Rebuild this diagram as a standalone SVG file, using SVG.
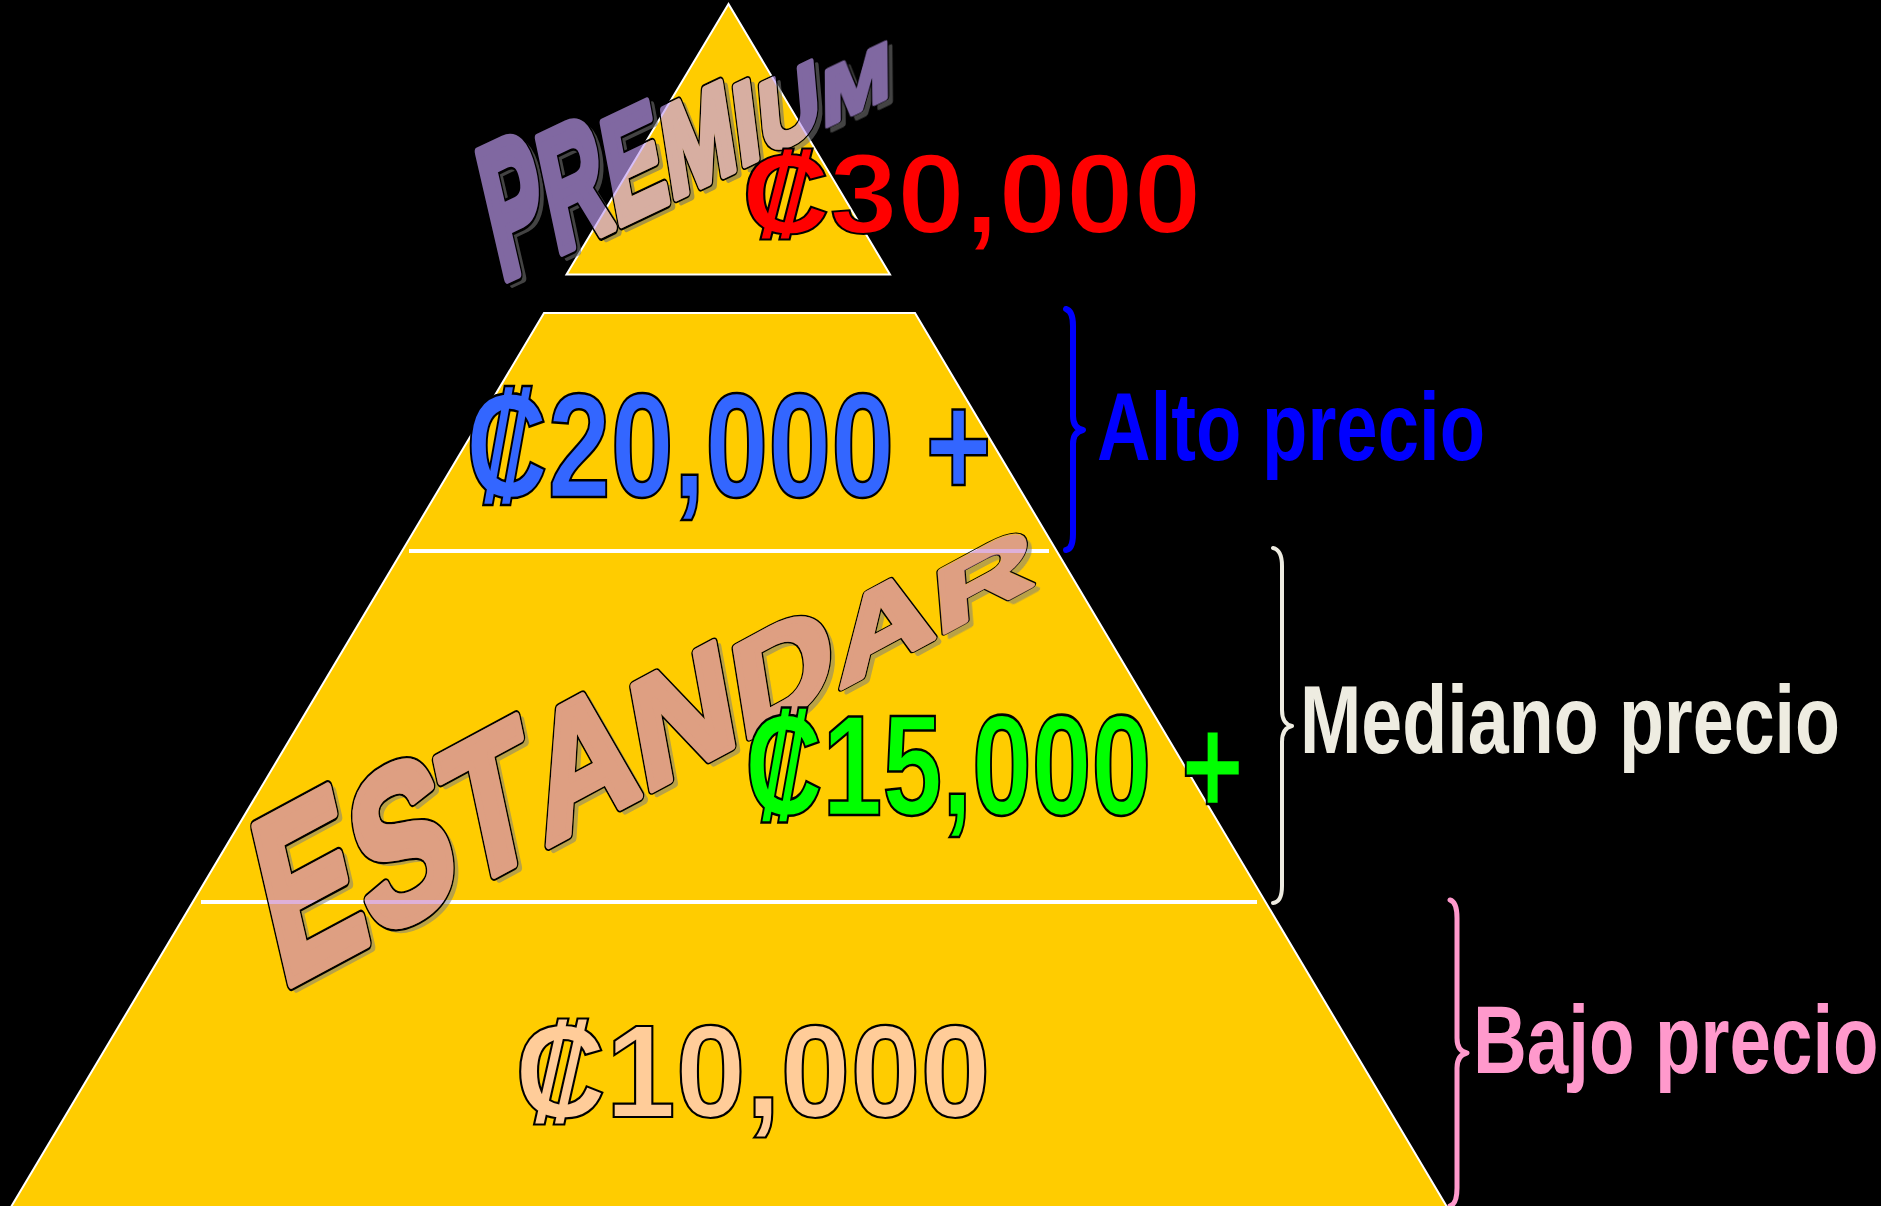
<svg xmlns="http://www.w3.org/2000/svg" xmlns:xlink="http://www.w3.org/1999/xlink" width="1881" height="1206" viewBox="0 0 1881 1206">
<style>
.shape{fill:#FFCC00;stroke:#FFFFFF;stroke-width:2}
.divider{stroke:#FFFFFF;stroke-width:4}
.brace{fill:none;stroke-linecap:round;stroke-linejoin:round}
.price{font-family:"Liberation Sans",Arial,sans-serif;font-weight:bold;stroke:#000000}
.label{font-family:"Liberation Sans",Arial,sans-serif;font-weight:bold;font-size:96px}
.wa{font-family:"Liberation Sans",Arial,sans-serif;font-weight:bold;font-size:100px;stroke-linejoin:round}
</style>
<defs>
<g id="premL" class="wa">
<text transform="matrix(0.826,-0.3934,0.420,1.818,501.0,280.9)">P</text>
<text transform="matrix(0.826,-0.3934,0.348,1.641,556.1,254.6)">R</text>
<text transform="matrix(0.826,-0.3934,0.276,1.462,615.7,226.2)">E</text>
<text transform="matrix(0.826,-0.3934,0.198,1.270,670.8,200.0)">M</text>
<text transform="matrix(0.826,-0.3934,0.140,1.128,739.6,167.2)">I</text>
<text transform="matrix(0.826,-0.3934,0.0884,1.0,762.6,156.3)">U</text>
<text transform="matrix(0.826,-0.3934,0.0077,0.800,822.2,127.9)">M</text>
</g>
<g id="estL" class="wa">
<text transform="matrix(1.3547,-0.7276,0.5275,2.272,282.1,988.3)">E</text>
<text transform="matrix(1.3547,-0.7276,0.465,2.084,372.5,939.8)">S</text>
<text transform="matrix(1.3547,-0.7276,0.406,1.902,462.8,891.3)">T</text>
<text transform="matrix(1.3547,-0.7276,0.3436,1.714,545.6,846.8)">A</text>
<text transform="matrix(1.3547,-0.7276,0.276,1.508,643.4,794.3)">N</text>
<text transform="matrix(1.3547,-0.7276,0.209,1.304,741.2,741.7)">D</text>
<text transform="matrix(1.3547,-0.7276,0.1418,1.0996,839.0,689.2)">A</text>
<text transform="matrix(1.3547,-0.7276,0.0744,0.895,936.8,636.7)">R</text>
</g>
<mask id="mPrem" maskUnits="userSpaceOnUse" x="0" y="0" width="1881" height="1206">
<rect x="0" y="0" width="1881" height="1206" fill="#FFFFFF"/>
<use xlink:href="#premL" fill="#000000" stroke="#000000" stroke-width="6"/>
</mask>
<mask id="mEst" maskUnits="userSpaceOnUse" x="0" y="0" width="1881" height="1206">
<rect x="0" y="0" width="1881" height="1206" fill="#FFFFFF"/>
<use xlink:href="#estL" fill="#000000" stroke="#000000" stroke-width="4.5"/>
</mask>
</defs>
<rect x="0" y="0" width="1881" height="1206" fill="#000000"/>

<g id="pyramid-top">
<polygon class="shape" points="728.5,4 566.5,274.5 890,274.5"/>
</g>
<g id="pyramid-base">
<polygon class="shape" points="544,313 915,313 1450,1212 8,1212"/>
<line class="divider" x1="409" y1="551" x2="1049" y2="551"/>
<line class="divider" x1="201" y1="902" x2="1257" y2="902"/>
</g>

<g id="connectors">
<path class="brace" stroke="#0000FF" stroke-width="6" d="M1066,309 Q1073,311 1073,326 L1073,416 Q1073,428 1083,430 Q1073,432 1073,444 L1073,534 Q1073,549 1066,550"/>
<path class="brace" stroke="#EEECE1" stroke-width="4" d="M1273,548 Q1282,550 1282,566 L1282,710 Q1282,724 1292,726 Q1282,728 1282,742 L1282,886 Q1282,902 1273,903"/>
<path class="brace" stroke="#FF99CC" stroke-width="5" d="M1450,900 Q1457,902 1457,918 L1457,1038 Q1457,1051 1467,1053 Q1457,1055 1457,1068 L1457,1188 Q1457,1204 1450,1206"/>
</g>

<g id="premium">
<g mask="url(#mPrem)">
<g opacity="0.6"><use xlink:href="#premL" transform="translate(5,4)" fill="#808080" stroke="#707070" stroke-width="6"/></g>
<use xlink:href="#premL" fill="none" stroke="#000000" stroke-width="9"/>
</g>
<g opacity="0.66"><use xlink:href="#premL" fill="#C29EF5" stroke="#C29EF5" stroke-width="6"/></g>
</g>

<g id="estandar">
<g mask="url(#mEst)">
<g opacity="0.55"><use xlink:href="#estL" transform="translate(5,4)" fill="#808080" stroke="#808080" stroke-width="4.5"/></g>
<use xlink:href="#estL" fill="none" stroke="#000000" stroke-width="6.5"/>
</g>
<g opacity="0.66"><use xlink:href="#estL" fill="#CD87C5" stroke="#CD87C5" stroke-width="4.5"/></g>
</g>

<g id="price-30000">
<text class="price" transform="translate(742,233) scale(1.075,1)" font-size="113" stroke-width="2" fill="#FF0000">₡30,000</text>
</g>
<g id="price-20000">
<text class="price" transform="translate(466,497) scale(0.76,1)" font-size="149" stroke-width="2.5" fill="#3366FF">₡20,000 +</text>
</g>
<g id="price-15000">
<text class="price" transform="translate(745,815) scale(0.757,1)" font-size="142" stroke-width="2.5" fill="#00FF00">₡15,000 +</text>
</g>
<g id="price-10000">
<text class="price" transform="translate(515,1117) scale(0.96,1)" font-size="131" stroke-width="2.2" fill="#FFCC99">₡10,000</text>
</g>

<g id="label-alto">
<text class="label" transform="translate(1097,460) scale(0.774,1)" fill="#0000FF">Alto precio</text>
</g>
<g id="label-mediano">
<text class="label" transform="translate(1300,753) scale(0.767,1)" fill="#EEECE1">Mediano precio</text>
</g>
<g id="label-bajo">
<text class="label" transform="translate(1473,1073) scale(0.776,1)" fill="#FF99CC">Bajo precio</text>
</g>
</svg>
